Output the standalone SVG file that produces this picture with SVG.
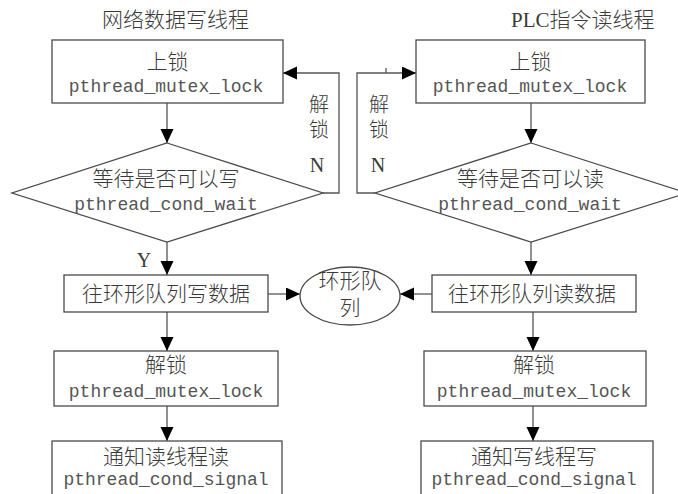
<svg xmlns="http://www.w3.org/2000/svg" width="678" height="494" viewBox="0 0 678 494">
  <style>
    .shape { fill: #ffffff; stroke: #4a4a4a; stroke-width: 1.3; }
    .edge { fill: none; stroke: #555555; stroke-width: 1.3; }
    .cn { font-family: "Liberation Serif", "Noto Sans CJK SC", serif; font-size: 21px; font-weight: 300; fill: #3a3a3a; }
    .code { font-family: "Liberation Mono", "DejaVu Sans Mono", monospace; font-size: 18px; fill: #555555; text-anchor: middle; }
    .mid { text-anchor: middle; }
    .lbl { font-family: "Liberation Serif", "Noto Sans CJK SC", serif; font-size: 20px; font-weight: 300; fill: #3a3a3a; text-anchor: middle; }
  </style>
  <defs>
    <marker id="arrow" markerUnits="userSpaceOnUse" markerWidth="14" markerHeight="14" refX="14" refY="6.5" orient="auto">
      <path d="M0,0 L14,6.5 L0,13 Z" fill="#000000"/>
    </marker>
  </defs>

  <rect width="678" height="494" fill="#ffffff"/>

  <!-- thread titles -->
  <text class="cn" x="102" y="27">网络数据写线程</text>
  <text class="cn" x="511" y="27">PLC指令读线程</text>

  <!-- connectors -->
  <g id="connectors">
    <!-- write thread -->
    <path class="edge" d="M167,103 V143" marker-end="url(#arrow)"/>
    <path class="edge" d="M323,193 H339 V73 H283" marker-end="url(#arrow)"/>
    <path class="edge" d="M167,242 V275" marker-end="url(#arrow)"/>
    <path class="edge" d="M268,294 H300" marker-end="url(#arrow)"/>
    <path class="edge" d="M167,312 V351" marker-end="url(#arrow)"/>
    <path class="edge" d="M167,406 V441" marker-end="url(#arrow)"/>
    <!-- read thread -->
    <path class="edge" d="M531,103 V143" marker-end="url(#arrow)"/>
    <path class="edge" d="M375,193 H357 V73 H416" marker-end="url(#arrow)"/>
    <path class="edge" d="M386,68 V73"/>
    <path class="edge" d="M531,242 V275" marker-end="url(#arrow)"/>
    <path class="edge" d="M432,294 H400" marker-end="url(#arrow)"/>
    <path class="edge" d="M533,312 V351" marker-end="url(#arrow)"/>
    <path class="edge" d="M533,406 V441" marker-end="url(#arrow)"/>
    <!-- edge labels -->
    <text class="lbl" x="319" y="112">解</text>
    <text class="lbl" x="319" y="137">锁</text>
    <text class="lbl" x="317" y="172">N</text>
    <text class="lbl" x="379" y="112">解</text>
    <text class="lbl" x="379" y="137">锁</text>
    <text class="lbl" x="378" y="172">N</text>
    <text class="lbl" x="144" y="267">Y</text>
  </g>

  <!-- write thread nodes -->
  <g id="w-lock">
    <rect class="shape" x="52" y="40" width="231" height="63"/>
    <text class="cn mid" x="167.5" y="69">上锁</text>
    <text class="code" x="166" y="92">pthread_mutex_lock</text>
  </g>
  <g id="w-wait">
    <polygon class="shape" points="167,143 323,193 167,242 12,193"/>
    <text class="cn mid" x="166" y="186">等待是否可以写</text>
    <text class="code" x="166" y="210">pthread_cond_wait</text>
  </g>
  <g id="w-put">
    <rect class="shape" x="64" y="275" width="204" height="37"/>
    <text class="cn mid" x="166" y="301">往环形队列写数据</text>
  </g>
  <g id="w-unlock">
    <rect class="shape" x="54" y="351" width="224" height="55"/>
    <text class="cn mid" x="166" y="372">解锁</text>
    <text class="code" x="166" y="397">pthread_mutex_lock</text>
  </g>
  <g id="w-signal">
    <rect class="shape" x="52" y="441" width="230" height="70"/>
    <text class="cn mid" x="166" y="464">通知读线程读</text>
    <text class="code" x="166" y="485">pthread_cond_signal</text>
  </g>

  <!-- shared ring queue -->
  <g id="ring-queue">
    <ellipse class="shape" cx="350" cy="296" rx="50" ry="29"/>
    <text class="cn mid" x="350" y="288">环形队</text>
    <text class="cn mid" x="350" y="315">列</text>
  </g>

  <!-- read thread nodes -->
  <g id="r-lock">
    <rect class="shape" x="416" y="40" width="229" height="63"/>
    <text class="cn mid" x="530.5" y="69">上锁</text>
    <text class="code" x="530" y="92">pthread_mutex_lock</text>
  </g>
  <g id="r-wait">
    <polygon class="shape" points="531,143 687,193 531,242 375,193"/>
    <text class="cn mid" x="530.5" y="186">等待是否可以读</text>
    <text class="code" x="530" y="210">pthread_cond_wait</text>
  </g>
  <g id="r-get">
    <rect class="shape" x="432" y="275" width="204" height="37"/>
    <text class="cn mid" x="532" y="301">往环形队列读数据</text>
  </g>
  <g id="r-unlock">
    <rect class="shape" x="424" y="351" width="222" height="55"/>
    <text class="cn mid" x="534" y="372">解锁</text>
    <text class="code" x="534" y="397">pthread_mutex_lock</text>
  </g>
  <g id="r-signal">
    <rect class="shape" x="421" y="441" width="232" height="70"/>
    <text class="cn mid" x="534" y="464">通知写线程写</text>
    <text class="code" x="534" y="485">pthread_cond_signal</text>
  </g>
</svg>
